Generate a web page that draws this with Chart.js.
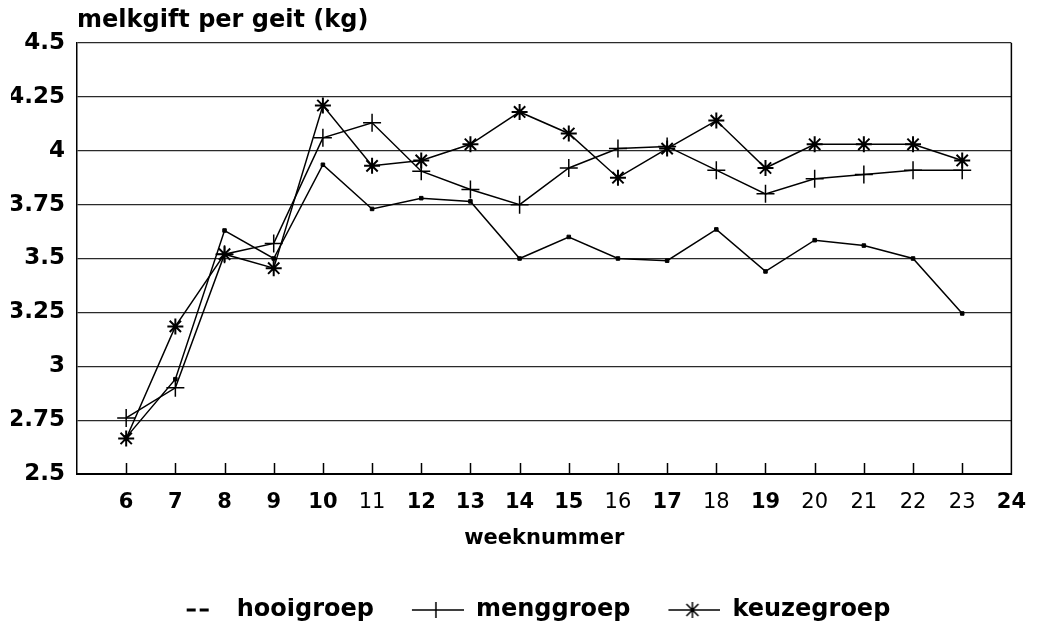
<!DOCTYPE html>
<html lang="nl">
<head>
    <meta charset="UTF-8">
    <title>melkgift per geit</title>
    <style>
        html, body {
            margin: 0;
            padding: 0;
            background: #fff;
        }

        #wrap {
            width: 1042px;
            height: 626px;
        }
    </style>
</head>
<body>
    <div id="wrap">
        <canvas id="myChart" width="1042" height="626"></canvas>
    </div>

    <script src="https://cdn.jsdelivr.net/npm/chart.js"></script>
    <script>
        // data
        const weeks = [6, 7, 8, 9, 10, 11, 12, 13, 14, 15, 16, 17, 18, 19, 20, 21, 22, 23];
        const hooigroep = [2.67, 2.94, 3.63, 3.50, 3.935, 3.73, 3.78, 3.765, 3.50, 3.60, 3.50, 3.49, 3.635, 3.44, 3.585, 3.56, 3.50, 3.245];
        const menggroep = [2.76, 2.90, 3.52, 3.57, 4.06, 4.13, 3.905, 3.82, 3.75, 3.92, 4.01, 4.02, 3.91, 3.80, 3.87, 3.89, 3.91, 3.91];
        const keuzegroep = [2.665, 3.185, 3.52, 3.455, 4.21, 3.93, 3.955, 4.03, 4.18, 4.08, 3.875, 4.01, 4.14, 3.92, 4.03, 4.03, 4.03, 3.955];

        const xTicks = [6, 7, 8, 9, 10, 11, 12, 13, 14, 15, 16, 17, 18, 19, 20, 21, 22, 23, 24];
        const xTickLabels = ['6', '7', '8', '9', '10', '11', '12', '13', '14', '15', '16', '17', '18', '19', '20', '21', '22', '23', '24'];
        const lightTicks = [11, 16, 18, 20, 21, 22, 23];
        const yTicks = [2.5, 2.75, 3, 3.25, 3.5, 3.75, 4, 4.25, 4.5];
        const yTickLabels = ['2.5', '2.75', '3', '3.25', '3.5', '3.75', '4', '4.25', '4.5'];

        const FONT = "'DejaVu Sans', sans-serif";
        Chart.defaults.font.family = FONT;
        Chart.defaults.color = '#000';

        // small pictures for the legend markers
        function legendIcon(kind) {
            const c = document.createElement('canvas');
            c.width = 90;
            c.height = 20;
            const g = c.getContext('2d');
            g.strokeStyle = '#000';
            g.lineWidth = 1.5;
            g.beginPath();
            if (kind === 'dash') {
                g.lineWidth = 3;
                g.moveTo(52, 10); g.lineTo(61, 10);
                g.moveTo(65, 10); g.lineTo(74, 10);
            } else {
                g.moveTo(38, 10); g.lineTo(90, 10);
                g.moveTo(62, 2); g.lineTo(62, 18);
                if (kind === 'star') {
                    g.moveTo(56, 4); g.lineTo(68, 16);
                    g.moveTo(68, 4); g.lineTo(56, 16);
                }
            }
            g.stroke();
            return c;
        }
        const icons = [legendIcon('dash'), legendIcon('cross'), legendIcon('star')];

        const pts = (arr) => weeks.map((w, i) => ({ x: w, y: arr[i] }));

        // title, upward tick marks and right frame line
        const extras = {
            id: 'extras',
            afterDraw(chart) {
                const ctx = chart.ctx;
                const area = chart.chartArea;
                const x = chart.scales.x;
                ctx.save();
                ctx.strokeStyle = '#000';
                ctx.lineWidth = 1.5;
                ctx.beginPath();
                xTicks.slice(0, -1).forEach(w => {
                    const px = Math.round(x.getPixelForValue(w)) + 0.5;
                    ctx.moveTo(px, area.bottom);
                    ctx.lineTo(px, area.bottom - 11);
                });
                ctx.moveTo(area.right, area.top);
                ctx.lineTo(area.right, area.bottom + 1);
                ctx.stroke();

                ctx.fillStyle = '#000';
                ctx.font = "bold 24px " + FONT;
                ctx.textAlign = 'left';
                ctx.textBaseline = 'middle';
                ctx.fillText('melkgift per geit (kg)', area.left, 21);
                ctx.restore();
            }
        };

        const data = {
            datasets: [{
                label: 'hooigroep',
                data: pts(hooigroep),
                borderColor: '#000',
                backgroundColor: '#000',
                borderWidth: 1.5,
                pointStyle: 'rect',
                pointRadius: 2.5,
                pointBorderWidth: 1
            }, {
                label: 'menggroep',
                data: pts(menggroep),
                borderColor: '#000',
                backgroundColor: '#000',
                borderWidth: 1.5,
                pointStyle: 'cross',
                pointRadius: 9,
                pointBorderWidth: 1.5
            }, {
                label: 'keuzegroep',
                data: pts(keuzegroep),
                borderColor: '#000',
                backgroundColor: '#000',
                borderWidth: 1.5,
                pointStyle: 'star',
                pointRadius: 8,
                pointBorderWidth: 2
            }]
        };

        const config = {
            type: 'line',
            data: data,
            options: {
                responsive: false,
                animation: false,
                layout: {
                    padding: { left: 11, right: 28, top: 43, bottom: -6 }
                },
                scales: {
                    x: {
                        type: 'linear',
                        min: 5,
                        max: 24,
                        afterBuildTicks: (s) => { s.ticks = xTicks.map(v => ({ value: v })); },
                        afterFit: (s) => { s.height = 124; },
                        ticks: {
                            padding: 16,
                            autoSkip: false,
                            maxRotation: 0,
                            color: '#000',
                            callback: (v, i) => xTickLabels[i],
                            font: (c) => ({
                                size: 21,
                                weight: (c.tick && lightTicks.includes(c.tick.value)) ? 'normal' : 'bold'
                            })
                        },
                        grid: { display: false, drawTicks: false },
                        border: { display: true, color: '#000', width: 2 },
                        title: {
                            display: true,
                            text: 'weeknummer',
                            color: '#000',
                            font: { size: 21, weight: 'bold' },
                            padding: { top: 14, bottom: 47 }
                        }
                    },
                    y: {
                        min: 2.5,
                        max: 4.5,
                        afterBuildTicks: (s) => { s.ticks = yTicks.map(v => ({ value: v })); },
                        afterFit: (s) => { s.width = 66; },
                        ticks: {
                            padding: 12,
                            color: '#000',
                            callback: (v, i) => yTickLabels[i],
                            font: { size: 23, weight: 'bold' }
                        },
                        grid: { color: '#2a2a2a', lineWidth: 1.2, drawTicks: false },
                        border: { display: true, color: '#000', width: 1.5 }
                    }
                },
                plugins: {
                    tooltip: { enabled: false },
                    legend: {
                        position: 'bottom',
                        labels: {
                            usePointStyle: true,
                            pointStyleWidth: 90,
                            boxHeight: 14,
                            padding: 0,
                            color: '#000',
                            font: { size: 24, weight: 'bold' },
                            generateLabels: (chart) => chart.data.datasets.map((ds, i) => ({
                                text: ds.label,
                                pointStyle: icons[i],
                                datasetIndex: i,
                                fillStyle: '#000',
                                strokeStyle: '#000',
                                lineWidth: 1,
                                hidden: false,
                                fontColor: '#000'
                            }))
                        }
                    }
                }
            },
            plugins: [extras]
        };

        new Chart(document.getElementById('myChart'), config);
    </script>
</body>
</html>
